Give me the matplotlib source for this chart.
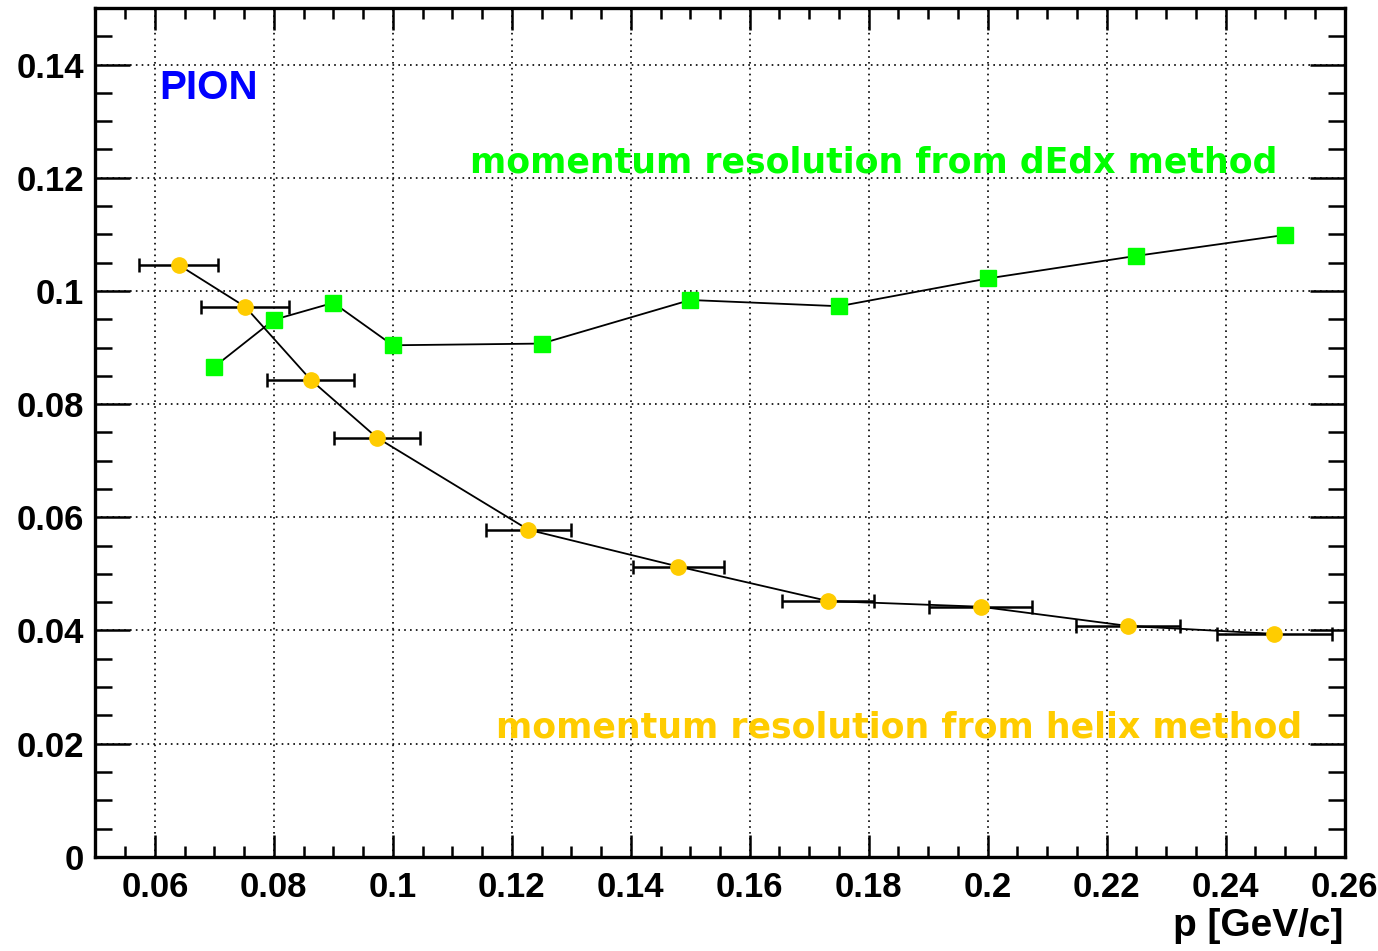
import matplotlib.pyplot as plt
from matplotlib.ticker import MultipleLocator

plt.rcParams['font.family'] = ['Liberation Sans', 'DejaVu Sans']
plt.rcParams['font.weight'] = 'bold'

# momentum resolution from dE/dx method
p_dedx = [0.07, 0.08, 0.09, 0.10, 0.125, 0.15, 0.175, 0.20, 0.225, 0.25]
res_dedx = [0.0866, 0.0949, 0.0979, 0.0904, 0.0907, 0.0984, 0.0973, 0.1022, 0.1062, 0.1099]

# momentum resolution from helix method, with bin width errors in p
p_helix = [0.064, 0.0752, 0.0862, 0.0973, 0.1228, 0.148, 0.1732, 0.1988, 0.2236, 0.2482]
res_helix = [0.1046, 0.0972, 0.0843, 0.0741, 0.0578, 0.0513, 0.0452, 0.0442, 0.0408, 0.0394]
p_err = [0.0066, 0.0074, 0.0073, 0.0072, 0.0072, 0.0076, 0.0077, 0.0086, 0.0088, 0.0096]

fig = plt.figure(figsize=(13.78, 9.51), dpi=100)
ax = fig.add_axes([0.0692, 0.099, 0.9066, 0.8926])

ax.plot(p_dedx, res_dedx, color='black', lw=1.3, zorder=2)
ax.plot(p_dedx, res_dedx, 's', color='#00ff00', ms=12, mec='#00ff00', zorder=4)

ax.errorbar(p_helix, res_helix, xerr=p_err, fmt='none', ecolor='black',
            elinewidth=1.8, capsize=5, capthick=1.8, zorder=3)
ax.plot(p_helix, res_helix, color='black', lw=1.3, zorder=2)
ax.plot(p_helix, res_helix, 'o', color='#ffcc00', ms=11, mec='#ffcc00', zorder=4)

ax.set_xlim(0.05, 0.26)
ax.set_ylim(0, 0.15)
ax.xaxis.set_major_locator(MultipleLocator(0.02))
ax.xaxis.set_minor_locator(MultipleLocator(0.005))
ax.yaxis.set_major_locator(MultipleLocator(0.02))
ax.yaxis.set_minor_locator(MultipleLocator(0.005))
ax.set_xticks([0.06, 0.08, 0.10, 0.12, 0.14, 0.16, 0.18, 0.20, 0.22, 0.24, 0.26])
ax.set_xticklabels(['0.06', '0.08', '0.1', '0.12', '0.14', '0.16', '0.18',
                    '0.2', '0.22', '0.24', '0.26'])
ax.set_yticks([0, 0.02, 0.04, 0.06, 0.08, 0.10, 0.12, 0.14])
ax.set_yticklabels(['0', '0.02', '0.04', '0.06', '0.08', '0.1', '0.12', '0.14'])

ax.grid(True, which='major', color='black', linestyle=(0, (1, 2.5)), lw=1.2)
for s in ax.spines.values():
    s.set_linewidth(2.4)

ax.tick_params(axis='both', which='both', direction='in', top=True, right=True,
               labelsize=25, width=1.8)
ax.tick_params(axis='x', which='major', length=16, pad=10)
ax.tick_params(axis='x', which='minor', length=8)
ax.tick_params(axis='y', which='major', length=25, pad=8)
ax.tick_params(axis='y', which='minor', length=12)

label_font = ['DejaVu Sans']
ax.text(0.0608, 0.134, 'PION', color='#0000ff', fontsize=29, fontweight='bold')
ax.text(0.1129, 0.121, 'momentum resolution from dEdx method', color='#00ff00',
        fontsize=25, fontweight='bold', family=label_font)
ax.text(0.1174, 0.0211, 'momentum resolution from helix method', color='#ffcc00',
        fontsize=25, fontweight='bold', family=label_font)

fig.text(0.975, 0.016, 'p [GeV/c]', ha='right', va='baseline', fontsize=28,
         fontweight='bold')

fig.savefig('out.png', dpi=100)
